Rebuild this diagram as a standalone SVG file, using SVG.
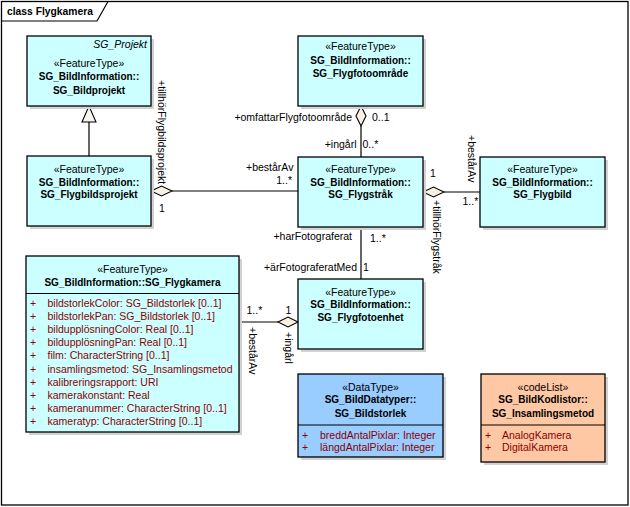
<svg xmlns="http://www.w3.org/2000/svg" width="630" height="507" viewBox="0 0 630 507">
<style>
.box{fill:#CCFFFF;stroke:#000;stroke-width:1.3}
.dt{fill:#99CCFF;stroke:#000;stroke-width:1.3}
.cl{fill:#FFC8A4;stroke:#000;stroke-width:1.3}
.sh{fill:#D2D2D2}
.sep{stroke:#000;stroke-width:1.2}
.st{font-family:"Liberation Sans",Arial,sans-serif;font-size:10.5px;text-anchor:middle;fill:#000}
.nm{font-family:"Liberation Sans",Arial,sans-serif;font-size:10px;font-weight:bold;text-anchor:middle;fill:#000}
.at{font-family:"Liberation Sans",Arial,sans-serif;font-size:10.5px;fill:#8B0000}
.lb{font-family:"Liberation Sans",Arial,sans-serif;font-size:10.5px;fill:#000}
.e{text-anchor:end}
.ln{stroke:#000;stroke-width:1.2;fill:none}
.dia{fill:#FBF0E4;stroke:#000;stroke-width:1.1}
</style>
<rect x="0" y="0" width="630" height="507" fill="#fff"/>
<g id="frame">
<rect x="1.5" y="1.5" width="626.5" height="503.5" fill="none" stroke="#000" stroke-width="1.3"/>
<path d="M1.5,21 H97 L108,1.5" fill="none" stroke="#000" stroke-width="1.2"/>
<text x="7" y="15" style="font-family:'Liberation Sans',Arial,sans-serif;font-size:10.3px;font-weight:bold">class Flygkamera</text>
</g>
<g id="connectors">
<line class="ln" x1="89" y1="156" x2="89" y2="122"/>
<polygon points="89,106 82,122 96,122" class="dia" style="fill:#F8F4EE"/>
<line class="ln" x1="172" y1="191" x2="298" y2="191"/>
<polygon class="dia" points="151,191 161.5,186 172,191 161.5,196"/>
<line class="ln" x1="361" y1="126" x2="361" y2="157"/>
<polygon class="dia" points="361,106 366,116 361,126 356,116"/>
<line class="ln" x1="444" y1="192" x2="480" y2="192"/>
<polygon class="dia" points="423,192 433.5,187 444,192 433.5,197"/>
<line class="ln" x1="361" y1="227" x2="361" y2="279"/>
<line class="ln" x1="239" y1="322" x2="278" y2="322"/>
<polygon class="dia" points="278,322 288,317 298,322 288,327"/>
<text class="lb e" x="352" y="121">+omfattarFlygfotoområde</text>
<text class="lb" x="372" y="121">0..1</text>
<text class="lb e" x="356.5" y="148">+ingårl</text>
<text class="lb" x="362.5" y="148">0..*</text>
<text class="lb" x="246" y="171">+bestårAv</text>
<text class="lb e" x="292" y="184">1..*</text>
<text class="lb" x="159" y="212">1</text>
<text class="lb" transform="translate(158,80) rotate(90)">+tillhörFlygbildsprojekt</text>
<text class="lb" x="430" y="177">1</text>
<text class="lb" transform="translate(467.5,135) rotate(90)">+bestårAv</text>
<text class="lb" x="462.5" y="205">1..*</text>
<text class="lb" transform="translate(432.5,200) rotate(90)">+tillhörFlygstråk</text>
<text class="lb e" x="352" y="240">+harFotograferat</text>
<text class="lb" x="370" y="242">1..*</text>
<text class="lb e" x="357" y="271">+ärFotograferatMed</text>
<text class="lb" x="363" y="271">1</text>
<text class="lb" x="246.5" y="314">1..*</text>
<text class="lb" x="285.5" y="314">1</text>
<text class="lb" transform="translate(249,327) rotate(90)">+bestårAv</text>
<text class="lb" transform="translate(284.8,332) rotate(90)">+ingårl</text>
</g>
<g id="SG_Bildprojekt">
<rect class="sh" x="30" y="39" width="124" height="70"/>
<rect class="box" x="27" y="36" width="124" height="70"/>
<text x="147" y="48" style="font-family:'Liberation Sans',Arial,sans-serif;font-size:10.5px;font-style:italic;text-anchor:end">SG_Projekt</text>
<text class="st" x="89" y="67">«FeatureType»</text>
<text class="nm" x="89" y="80.3">SG_BildInformation::</text>
<text class="nm" x="89" y="93.6">SG_Bildprojekt</text>
</g>
<g id="SG_Flygbildsprojekt">
<rect class="sh" x="30" y="159" width="124" height="70"/>
<rect class="box" x="27" y="156" width="124" height="70"/>
<text class="st" x="89" y="173">«FeatureType»</text>
<text class="nm" x="89" y="186.3">SG_BildInformation::</text>
<text class="nm" x="89" y="198">SG_Flygbildsprojekt</text>
</g>
<g id="SG_Flygfotoomrade">
<rect class="sh" x="301" y="39" width="125" height="70"/>
<rect class="box" x="298" y="36" width="125" height="70"/>
<text class="st" x="360.5" y="50.3">«FeatureType»</text>
<text class="nm" x="360.5" y="64.3">SG_BildInformation::</text>
<text class="nm" x="360.5" y="77">SG_Flygfotoområde</text>
</g>
<g id="SG_Flygstrak">
<rect class="sh" x="301" y="160" width="125" height="70"/>
<rect class="box" x="298" y="157" width="125" height="70"/>
<text class="st" x="360.5" y="173">«FeatureType»</text>
<text class="nm" x="360.5" y="186.3">SG_BildInformation::</text>
<text class="nm" x="360.5" y="198">SG_Flygstråk</text>
</g>
<g id="SG_Flygbild">
<rect class="sh" x="483" y="160" width="125" height="70"/>
<rect class="box" x="480" y="157" width="125" height="70"/>
<text class="st" x="542.5" y="173">«FeatureType»</text>
<text class="nm" x="542.5" y="186.3">SG_BildInformation::</text>
<text class="nm" x="542.5" y="198">SG_Flygbild</text>
</g>
<g id="SG_Flygfotoenhet">
<rect class="sh" x="301" y="282" width="125" height="70"/>
<rect class="box" x="298" y="279" width="125" height="70"/>
<text class="st" x="360.5" y="296">«FeatureType»</text>
<text class="nm" x="360.5" y="308.3">SG_BildInformation::</text>
<text class="nm" x="360.5" y="321.3">SG_Flygfotoenhet</text>
</g>
<g id="SG_Flygkamera">
<rect class="sh" x="29" y="259" width="213" height="176"/>
<rect class="box" x="26" y="256" width="213" height="176"/>
<text class="st" x="132.5" y="272.5">«FeatureType»</text>
<text class="nm" x="132.5" y="286">SG_BildInformation::SG_Flygkamera</text>
<line class="sep" x1="26" y1="293.5" x2="239" y2="293.5"/>
<text class="at" x="30" y="307">+</text><text class="at" x="47.5" y="307">bildstorlekColor: SG_Bildstorlek [0..1]</text>
<text class="at" x="30" y="320.1">+</text><text class="at" x="47.5" y="320.1">bildstorlekPan: SG_Bildstorlek [0..1]</text>
<text class="at" x="30" y="333.2">+</text><text class="at" x="47.5" y="333.2">bildupplösningColor: Real [0..1]</text>
<text class="at" x="30" y="346.3">+</text><text class="at" x="47.5" y="346.3">bildupplösningPan: Real [0..1]</text>
<text class="at" x="30" y="359.4">+</text><text class="at" x="47.5" y="359.4">film: CharacterString [0..1]</text>
<text class="at" x="30" y="372.5">+</text><text class="at" x="47.5" y="372.5">insamlingsmetod: SG_Insamlingsmetod</text>
<text class="at" x="30" y="385.6">+</text><text class="at" x="47.5" y="385.6">kalibreringsrapport: URI</text>
<text class="at" x="30" y="398.7">+</text><text class="at" x="47.5" y="398.7">kamerakonstant: Real</text>
<text class="at" x="30" y="411.8">+</text><text class="at" x="47.5" y="411.8">kameranummer: CharacterString [0..1]</text>
<text class="at" x="30" y="424.9">+</text><text class="at" x="47.5" y="424.9">kameratyp: CharacterString [0..1]</text>
</g>
<g id="SG_Bildstorlek">
<rect class="sh" x="301" y="377" width="145" height="83"/>
<rect class="dt" x="298" y="374" width="145" height="83"/>
<text class="st" x="370.5" y="391">«DataType»</text>
<text class="nm" x="370.5" y="403">SG_BildDatatyper::</text>
<text class="nm" x="370.5" y="416.5">SG_Bildstorlek</text>
<line class="sep" x1="298" y1="425" x2="443" y2="425"/>
<text class="at" x="302" y="439">+</text><text class="at" x="320" y="439">breddAntalPixlar: Integer</text>
<text class="at" x="302" y="451">+</text><text class="at" x="320" y="451">längdAntalPixlar: Integer</text>
</g>
<g id="SG_Insamlingsmetod">
<rect class="sh" x="484" y="377" width="124" height="88"/>
<rect class="cl" x="481" y="374" width="124" height="88"/>
<text class="st" x="543" y="391">«codeList»</text>
<text class="nm" x="543" y="403">SG_BildKodlistor::</text>
<text class="nm" x="543" y="416.5">SG_Insamlingsmetod</text>
<line class="sep" x1="481" y1="425" x2="605" y2="425"/>
<text class="at" x="485" y="439">+</text><text class="at" x="502" y="439">AnalogKamera</text>
<text class="at" x="485" y="451">+</text><text class="at" x="502" y="451">DigitalKamera</text>
</g>
</svg>
